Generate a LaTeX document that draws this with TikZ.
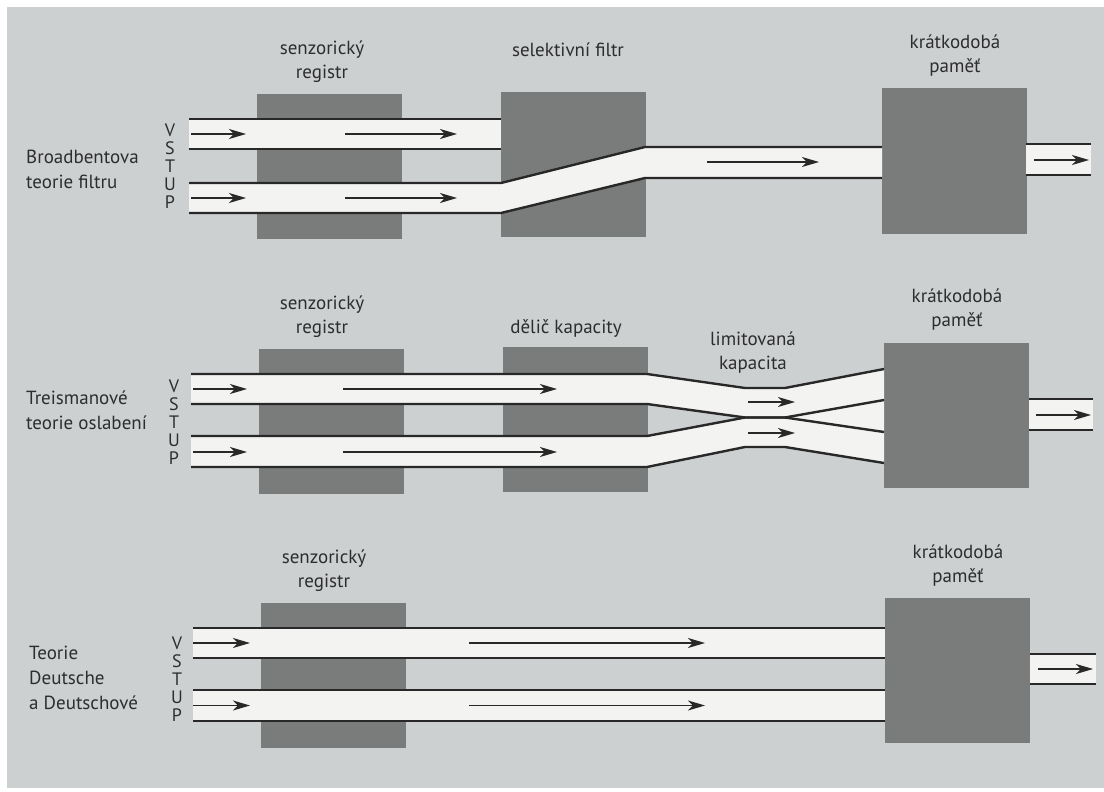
\documentclass[tikz,border=0pt]{standalone}
\usepackage{fontspec}
\setmainfont{PT Sans}
\usetikzlibrary{arrows.meta, positioning}

\definecolor{papir}{RGB}{205,208,209}
\definecolor{blokseda}{RGB}{122,124,124}
\definecolor{kanalbila}{RGB}{243,243,242}
\definecolor{cara}{RGB}{40,40,40}
\definecolor{pismo}{RGB}{45,45,45}

\tikzstyle{blok} = [rectangle, fill=blokseda, inner sep=0pt, minimum width=145pt, minimum height=145pt]
\tikzstyle{popis} = [align=center, text=pismo, font=\fontsize{19}{24}\selectfont, inner sep=0pt]
\tikzstyle{teorie} = [align=left, anchor=west, text=pismo, font=\fontsize{19}{25}\selectfont, inner sep=0pt]
\tikzstyle{vstup} = [align=center, text=pismo, font=\fontsize{18}{18}\selectfont, inner sep=0pt]
\tikzstyle{kanal} = [fill=kanalbila]
\tikzstyle{hrana} = [draw=cara, line width=2.4pt]
\tikzstyle{tok} = [draw=cara, line width=1.4pt, -{Stealth[length=17pt,width=10pt,inset=5pt]}]

\begin{document}
\begin{tikzpicture}[x=1pt, y=-1pt]

\useasboundingbox (0,0) rectangle (1104,792);
\fill[white] (0,0) rectangle (1104,792);
\fill[papir] (7,7) rectangle (1104,788);

% Nodes: Broadbent
\node (registrA) [blok] at (329,166.5) {};
\node (filtrA) [blok] at (573.5,164.5) {};
\node (pametA) [blok] at (954,161) {};

% Nodes: Treisman
\node (registrB) [blok] at (331,421) {};
\node (delicB) [blok] at (575.5,419) {};
\node (pametB) [blok] at (956.5,415.5) {};

% Nodes: Deutsch
\node (registrC) [blok] at (333.5,675.5) {};
\node (pametC) [blok] at (957.5,670) {};

% Labels
\node (registrAtxt) [popis] at (322,61.5) {senzorický\\registr};
\node (filtrAtxt) [popis] at (568,50) {selektivní filtr};
\node (pametAtxt) [popis] at (955,56) {krátkodobá\\paměť};
\node (registrBtxt) [popis] at (322,317) {senzorický\\registr};
\node (delicBtxt) [popis] at (566,328) {dělič kapacity};
\node (limitBtxt) [popis] at (753,352.5) {limitovaná\\kapacita};
\node (pametBtxt) [popis] at (957,309.5) {krátkodobá\\paměť};
\node (registrCtxt) [popis] at (324,571) {senzorický\\registr};
\node (pametCtxt) [popis] at (958,565.5) {krátkodobá\\paměť};

\node (teorieA) [teorie] at (26,169) {Broadbentova\\teorie filtru};
\node (teorieB) [teorie] at (26,410.5) {Treismanové\\teorie oslabení};
\node (teorieC) [teorie] at (29,678) {Teorie\\Deutsche\\a Deutschové};

\node (vstupA) [vstup] at (170,166.5) {V\\S\\T\\U\\P};
\node (vstupB) [vstup] at (174,422) {V\\S\\T\\U\\P};
\node (vstupC) [vstup] at (177,679) {V\\S\\T\\U\\P};

% Channels: Broadbent
\fill[kanal] (189,119) rectangle (501,149);
\fill[kanal] (189,183) -- (501,183) -- (645,147) -- (882,147) -- (882,178) -- (645,178) -- (501,213) -- (189,213) -- cycle;
\fill[kanal] (1026,144) rectangle (1091,175);
\draw[hrana] (189,119) -- (501,119);
\draw[hrana] (189,149) -- (501,149);
\draw[hrana] (189,183) -- (501,183) -- (645,147) -- (882,147);
\draw[hrana] (189,213) -- (501,213) -- (645,178) -- (882,178);
\draw[hrana] (1026,144) -- (1091,144);
\draw[hrana] (1026,175) -- (1091,175);

% Channels: Treisman
\fill[kanal] (191,374) -- (647,374) -- (745,388) -- (785,388) -- (884,369) -- (884,463) -- (785,447) -- (745,447) -- (647,467) -- (191,467) -- (191,436) -- (647,436) -- (745,417.5) -- (647,404) -- (191,404) -- cycle;
\fill[kanal] (1029,399) rectangle (1093,430);
\draw[hrana] (191,374) -- (647,374) -- (745,388) -- (785,388) -- (884,369);
\draw[hrana] (191,404) -- (647,404) -- (745,417.5) -- (785,417.5) -- (884,432);
\draw[hrana] (191,436) -- (647,436) -- (745,417.5) -- (785,417.5) -- (884,400);
\draw[hrana] (191,467) -- (647,467) -- (745,447) -- (785,447) -- (884,463);
\draw[hrana] (1029,399) -- (1093,399);
\draw[hrana] (1029,430) -- (1093,430);

% Channels: Deutsch
\fill[kanal] (193,628) rectangle (885,658);
\fill[kanal] (193,690) rectangle (885,721);
\fill[kanal] (1030,654) rectangle (1096,684);
\draw[hrana] (193,628) -- (885,628);
\draw[hrana] (193,658) -- (885,658);
\draw[hrana] (193,690) -- (885,690);
\draw[hrana] (193,721) -- (885,721);
\draw[hrana] (1030,654) -- (1096,654);
\draw[hrana] (1030,684) -- (1096,684);

% Arrows
\draw[tok] (191,134) -- (246,134);
\draw[tok] (345,134) -- (457,134);
\draw[tok] (191,198) -- (246,198);
\draw[tok] (345,198) -- (457,198);
\draw[tok] (707,162) -- (819,162);
\draw[tok] (1034,160) -- (1089,160);

\draw[tok] (193,389) -- (247,389);
\draw[tok] (343,389) -- (557,389);
\draw[tok] (193,452) -- (247,452);
\draw[tok] (343,452) -- (557,452);
\draw[tok] (748,402) -- (795,402);
\draw[tok] (748,433) -- (795,433);
\draw[tok] (1036,415) -- (1091,415);

\draw[tok] (193,643) -- (250,643);
\draw[tok] (469,643) -- (705,643);
\draw[tok] (193,705.5) -- (250,705.5);
\draw[tok] (469,705.5) -- (705,705.5);
\draw[tok] (1038,669) -- (1093,669);

\end{tikzpicture}
\end{document}
